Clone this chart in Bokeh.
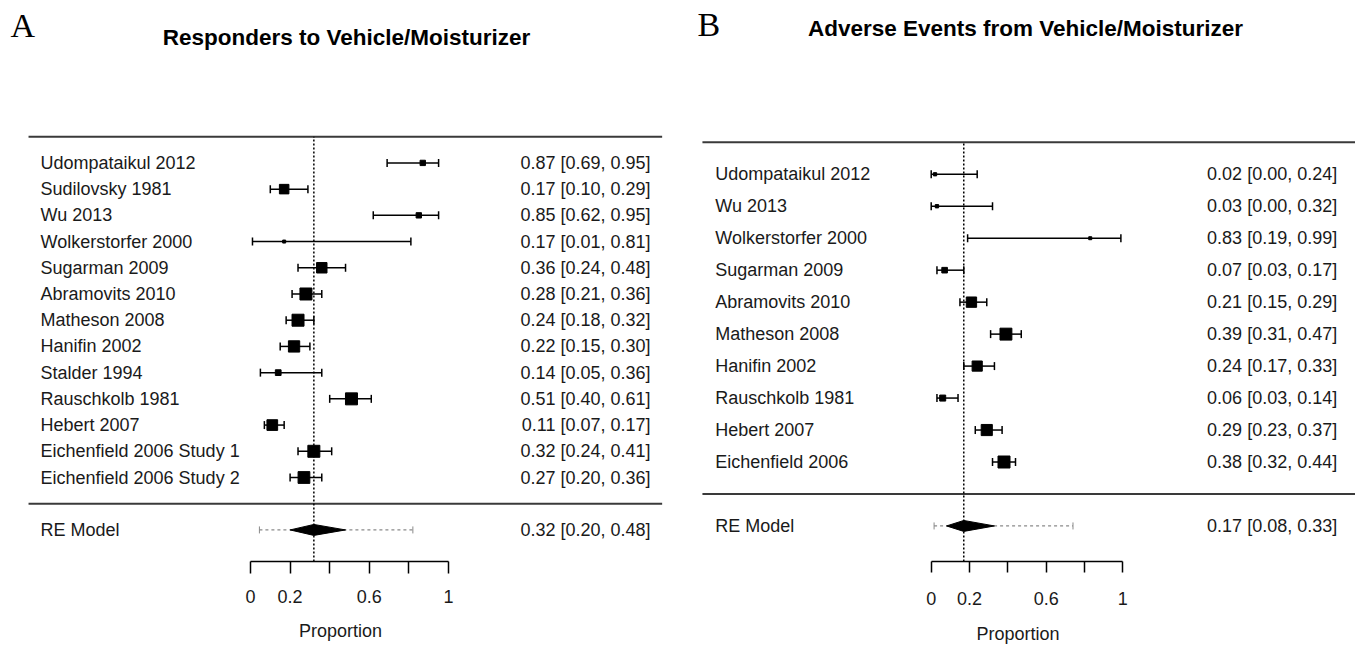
from bokeh.plotting import figure
from bokeh.models import Whisker, TeeHead, ColumnDataSource, FixedTicker, Range1d
from bokeh.layouts import row
from bokeh.embed import file_html
from bokeh.resources import INLINE
from bokeh.core.properties import value

# ---------------- data: panel A ----------------
a_title = "Responders to Vehicle/Moisturizer"
a_studies = ["Udompataikul 2012", "Sudilovsky 1981", "Wu 2013", "Wolkerstorfer 2000",
             "Sugarman 2009", "Abramovits 2010", "Matheson 2008", "Hanifin 2002",
             "Stalder 1994", "Rauschkolb 1981", "Hebert 2007",
             "Eichenfield 2006 Study 1", "Eichenfield 2006 Study 2"]
a_est = [0.87, 0.17, 0.85, 0.17, 0.36, 0.28, 0.24, 0.22, 0.14, 0.51, 0.11, 0.32, 0.27]
a_lo = [0.69, 0.10, 0.62, 0.01, 0.24, 0.21, 0.18, 0.15, 0.05, 0.40, 0.07, 0.24, 0.20]
a_hi = [0.95, 0.29, 0.95, 0.81, 0.48, 0.36, 0.32, 0.30, 0.36, 0.61, 0.17, 0.41, 0.36]
a_weight = [4.0, 7.5, 4.0, 2.0, 8.3, 9.6, 9.6, 9.0, 4.3, 9.6, 8.5, 9.6, 9.4]
a_re = [0.32, 0.20, 0.48]      # estimate, lower, upper
a_pi = [0.045, 0.82]           # prediction interval

# ---------------- data: panel B ----------------
b_title = "Adverse Events from Vehicle/Moisturizer"
b_studies = ["Udompataikul 2012", "Wu 2013", "Wolkerstorfer 2000", "Sugarman 2009",
             "Abramovits 2010", "Matheson 2008", "Hanifin 2002", "Rauschkolb 1981",
             "Hebert 2007", "Eichenfield 2006"]
b_est = [0.02, 0.03, 0.83, 0.07, 0.21, 0.39, 0.24, 0.06, 0.29, 0.38]
b_lo = [0.00, 0.00, 0.19, 0.03, 0.15, 0.31, 0.17, 0.03, 0.23, 0.32]
b_hi = [0.24, 0.32, 0.99, 0.17, 0.29, 0.47, 0.33, 0.14, 0.37, 0.44]
b_weight = [2.5, 2.6, 2.2, 5.5, 11.5, 13.5, 11.3, 6.0, 12.5, 13.6]
b_re = [0.17, 0.08, 0.33]
b_pi = [0.015, 0.74]

ticks = [0, 0.2, 0.4, 0.6, 0.8, 1]
tick_labels = ["0", "0.2", "", "0.6", "", "1"]

FONT = "Liberation Sans"
SERIF = "Liberation Serif"
TXT = "#1a1a1a"

# layout geometry per panel (pixel-derived)
geom_a = dict(w=680, h=646, xr=(-1.2626, 2.1717), yr=(-2.204, 19.195), mb=83,
              lx=(-1.121, 2.079), lab_x=-1.0606, ci_x=2.0202,
              letter_xy=(-1.212, 18.245), title_xy=(0.485, 17.79), dh=0.209,
              tick_out=12, lab_so=16, axl_so=15)
geom_b = dict(w=675, h=646, xr=(-1.3085, 2.2145), yr=(-2.112, 15.435), mb=81,
              lx=(-1.194, 2.2145), lab_x=-1.127, ci_x=2.119,
              letter_xy=(-1.22, 14.69), title_xy=(0.492, 14.565), dh=0.171,
              tick_out=11, lab_so=19, axl_so=16)


def forest(letter, title, names, est, lo, hi, wts, re, pi, g):
    k = len(names)
    rows = list(range(k, 0, -1))
    p = figure(width=g["w"], height=g["h"], x_range=Range1d(*g["xr"]), y_range=Range1d(*g["yr"]),
               output_backend="svg", toolbar_location=None, y_axis_location=None,
               min_border_left=0, min_border_right=0, min_border_top=0,
               min_border_bottom=g["mb"])
    p.outline_line_color = None
    p.grid.visible = False
    p.background_fill_color = "white"
    p.border_fill_color = "white"

    # header / separator lines
    p.segment(x0=[g["lx"][0]] * 2, x1=[g["lx"][1]] * 2, y0=[k + 1, 0], y1=[k + 1, 0],
              line_color="#3a3a3a", line_width=2)

    # prediction interval (dotted grey) under the diamond
    pis = ColumnDataSource(dict(y=[-1], lo=[pi[0]], hi=[pi[1]]))
    pw = Whisker(source=pis, base="y", lower="lo", upper="hi", dimension="width",
                 line_color="#8a8a8a", line_width=1.2, line_dash="3 3", level="underlay",
                 lower_head=TeeHead(size=7, line_color="#8a8a8a", line_width=1),
                 upper_head=TeeHead(size=7, line_color="#8a8a8a", line_width=1))
    p.add_layout(pw)

    # summary diamond
    dh = g["dh"]
    p.patch(x=[re[1], re[0], re[2], re[0]], y=[-1, -1 + dh, -1, -1 - dh],
            fill_color="black", line_color="black", line_width=1)

    # vertical dotted line at summary estimate
    p.segment(x0=[re[0]], x1=[re[0]], y0=[g["yr"][0]], y1=[k + 1],
              line_color="black", line_width=1.5, line_dash="2 2")

    # study confidence intervals
    src = ColumnDataSource(dict(y=rows, lo=lo, hi=hi, est=est,
                                size=[3 + (w - min(wts)) / (max(wts) - min(wts)) * 9 for w in wts]))
    wh = Whisker(source=src, base="y", lower="lo", upper="hi", dimension="width",
                 line_color="black", line_width=1.5,
                 lower_head=TeeHead(size=8, line_color="black", line_width=1.5),
                 upper_head=TeeHead(size=8, line_color="black", line_width=1.5))
    p.add_layout(wh)
    p.scatter(x="est", y="y", size="size", marker="square", source=src,
              fill_color="black", line_color="black")

    # labels
    p.text(x=[g["lab_x"]] * (k + 1), y=rows + [-1], text=names + ["RE Model"],
           text_font=value(FONT), text_font_size="18px", text_align="left",
           text_baseline="middle", text_color=TXT)
    ci = [f"{e:.2f} [{l:.2f}, {h:.2f}]" for e, l, h in zip(est, lo, hi)]
    ci.append(f"{re[0]:.2f} [{re[1]:.2f}, {re[2]:.2f}]")
    p.text(x=[g["ci_x"]] * (k + 1), y=rows + [-1], text=ci,
           text_font=value(FONT), text_font_size="18px", text_align="right",
           text_baseline="middle", text_color=TXT)

    # panel letter and title
    p.text(x=[g["letter_xy"][0]], y=[g["letter_xy"][1]], text=[letter],
           text_font=value(SERIF), text_font_size="34px", text_align="left",
           text_baseline="middle", text_color="black")
    p.text(x=[g["title_xy"][0]], y=[g["title_xy"][1]], text=[title],
           text_font=value(FONT), text_font_size="22.5px", text_font_style="bold",
           text_align="center", text_baseline="middle", text_color="black")

    # x axis
    ax = p.xaxis[0]
    ax.bounds = (0, 1)
    ax.ticker = FixedTicker(ticks=ticks, minor_ticks=[])
    ax.major_label_overrides = {t: l for t, l in zip(ticks, tick_labels)}
    ax.axis_line_color = "black"
    ax.axis_line_width = 1.5
    ax.major_tick_line_color = "black"
    ax.major_tick_line_width = 1.5
    ax.major_tick_in = 0
    ax.major_tick_out = g["tick_out"]
    ax.minor_tick_out = 0
    ax.minor_tick_in = 0
    ax.major_label_standoff = g["lab_so"]
    ax.major_label_text_font = FONT
    ax.major_label_text_font_size = "18px"
    ax.major_label_text_color = TXT
    ax.axis_label = "Proportion"
    ax.axis_label_text_font = FONT
    ax.axis_label_text_font_size = "18px"
    ax.axis_label_text_font_style = "normal"
    ax.axis_label_text_color = TXT
    ax.axis_label_standoff = g["axl_so"]
    return p


pa = forest("A", a_title, a_studies, a_est, a_lo, a_hi, a_weight, a_re, a_pi, geom_a)
pb = forest("B", b_title, b_studies, b_est, b_lo, b_hi, b_weight, b_re, b_pi, geom_b)

layout = row(pa, pb, spacing=0)
open("out.html", "w").write(file_html(layout, INLINE))
